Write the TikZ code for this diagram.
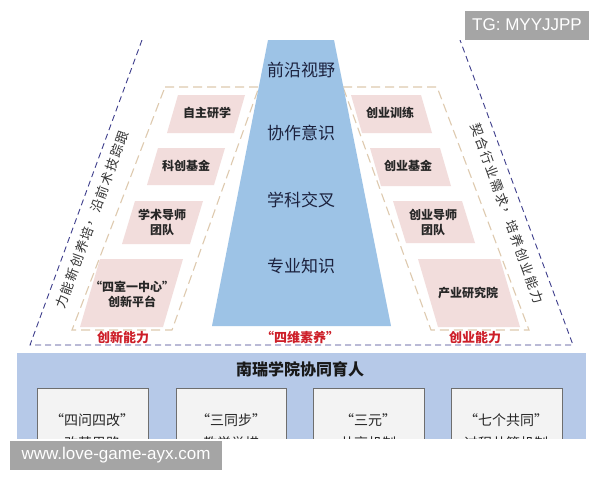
\documentclass[tikz,border=0pt]{standalone}
\usepackage{fontspec}
\setsansfont{Liberation Sans}
\newfontfamily\cjk{Noto Sans CJK SC}
\definecolor{trapblue}{RGB}{157,195,230}
\definecolor{pinkbox}{RGB}{242,221,220}
\definecolor{tanline}{RGB}{222,202,175}
\definecolor{navyline}{RGB}{62,62,140}
\definecolor{redtxt}{RGB}{205,30,40}
\definecolor{botblue}{RGB}{182,201,232}
\definecolor{boxfill}{RGB}{243,243,243}
\definecolor{boxline}{RGB}{110,110,110}
\definecolor{wmgray}{RGB}{165,165,165}
\definecolor{darktxt}{RGB}{28,34,62}
\begin{document}
\begin{tikzpicture}[x=1pt,y=-1pt,
  pbox/.style={fill=pinkbox},
  btxt/.style={font=\cjk\bfseries\fontsize{12}{15}\selectfont, text=black!85, align=center, inner sep=0pt},
  ttxt/.style={font=\cjk\fontsize{17}{20}\selectfont, text=darktxt, inner sep=0pt},
  rtxt/.style={font=\cjk\bfseries\fontsize{13}{15}\selectfont, text=redtxt, inner sep=0pt},
  stxt/.style={font=\cjk\fontsize{13}{15}\selectfont, text=black!80, inner sep=0pt},
  wbox/.style={fill=boxfill, draw=boxline, line width=0.8pt},
  wtxt/.style={font=\cjk\fontsize{14}{23}\selectfont, text=black!85, align=center, inner sep=0pt},
  wm/.style={fill=wmgray, text=white, font=\sffamily\fontsize{17}{20}\selectfont, inner sep=0pt, minimum height=29pt}
]
\useasboundingbox (0,0) rectangle (600,480);
\fill[white] (0,0) rectangle (600,480);
\begin{scope}
\clip (0,40) rectangle (600,438);
% outer navy dashed outline
\draw[navyline, line width=0.9pt, dash pattern=on 6pt off 4pt] (142,40) -- (30,345) -- (573,345) -- (460,40);
% inner tan dashed regions
\draw[tanline, line width=1.1pt, dash pattern=on 9pt off 5pt] (165,87) -- (259,87) -- (172,330) -- (72,330) -- cycle;
\draw[tanline, line width=1.1pt, dash pattern=on 9pt off 5pt] (343,87) -- (437,87) -- (529,330) -- (431,330) -- cycle;
% central trapezoid
\fill[trapblue] (268,40) -- (334,40) -- (391,326) -- (212,326) -- cycle;
\node[ttxt] (t1) at (301,70) {前沿视野};
\node[ttxt] (t2) at (301,133) {协作意识};
\node[ttxt] (t3) at (301,200) {学科交叉};
\node[ttxt] (t4) at (301,266) {专业知识};
% left pink boxes
\fill[pbox] (178,95) -- (245,95) -- (234,133) -- (167,133) -- cycle;
\fill[pbox] (158,148) -- (225,148) -- (214,185) -- (147,185) -- cycle;
\fill[pbox] (135,201) -- (203,201) -- (190,244) -- (122,244) -- cycle;
\fill[pbox] (100,259) -- (183,259) -- (163,327) -- (80,327) -- cycle;
\node[btxt] (l1) at (207,113) {自主研学};
\node[btxt] (l2) at (186,166) {科创基金};
\node[btxt] (l3) at (162,222) {学术导师\\团队};
\node[btxt] (l4) at (132,294) {“四室一中心”\\创新平台};
% right pink boxes
\fill[pbox] (351,95) -- (421,95) -- (432,133) -- (362,133) -- cycle;
\fill[pbox] (370,148) -- (440,148) -- (451,186) -- (381,186) -- cycle;
\fill[pbox] (393,201) -- (462,201) -- (475,243) -- (406,243) -- cycle;
\fill[pbox] (418,259) -- (500,259) -- (520,327) -- (438,327) -- cycle;
\node[btxt] (r1) at (390,113) {创业训练};
\node[btxt] (r2) at (408,166) {创业基金};
\node[btxt] (r3) at (433,222) {创业导师\\团队};
\node[btxt] (r4) at (468,293) {产业研究院};
% red labels
\node[rtxt] (c1) at (123,338) {创新能力};
\node[rtxt] (c2) at (300,338) {“四维素养”};
\node[rtxt] (c3) at (475,338) {创业能力};
% side rotated texts, one character at a time along the dashed lines
\foreach \ch [count=\i from 0] in {力,能,新,创,养,培,，,沿,前,术,技,踪,跟}
  \node[stxt, rotate=70] (sl\i) at ({62+0.342*14.6*\i},{302-0.940*14.6*\i}) {\ch};
\foreach \ch [count=\i from 0] in {契,合,行,业,需,求,，,培,养,创,业,能,力}
  \node[stxt, rotate=-70] (sr\i) at ({477+0.342*14.8*\i},{130+0.940*14.8*\i}) {\ch};
% bottom section
\fill[botblue] (17,353) rectangle (586,480);
\node[font=\cjk\bfseries\fontsize{16}{18}\selectfont, text=black!90] (bt) at (300,369) {南瑞学院协同育人};
\draw[wbox] (37,388) rectangle (148,480);
\draw[wbox] (176,388) rectangle (286,480);
\draw[wbox] (313,388) rectangle (424,480);
\draw[wbox] (451,388) rectangle (562,480);
\node[wtxt] (b1) at (92,432) {“四问四改”\\改革思路};
\node[wtxt] (b2) at (231,432) {“三同步”\\教学举措};
\node[wtxt] (b3) at (368,432) {“三元”\\共享机制};
\node[wtxt] (b4) at (506,432) {“七个共同”\\过程共管机制};
\end{scope}
% watermarks
\node[wm, minimum width=124pt] (w1) at (527,25) {TG: MYYJJPP};
\node[wm, minimum width=212pt] (w2) at (116,455) {www.love-game-ayx.com};
\end{tikzpicture}
\end{document}
